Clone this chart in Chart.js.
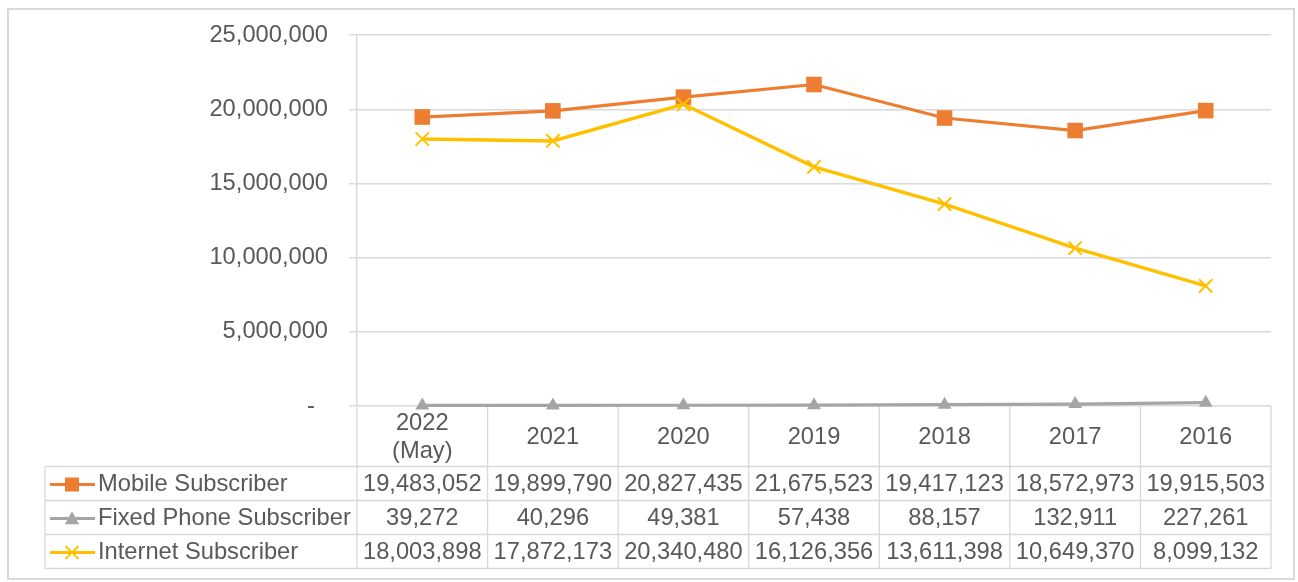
<!DOCTYPE html>
<html><head><meta charset="utf-8">
<script src="https://cdn.jsdelivr.net/npm/chart.js@4.4.1/dist/chart.umd.min.js"></script>
<style>html,body{margin:0;padding:0;background:#fff}#wrap{width:1298px;height:582px;position:relative}</style>
</head><body><div id="wrap"><canvas id="c"></canvas></div>
<script>
const categories = [["2022","(May)"],"2021","2020","2019","2018","2017","2016"];
const mobileSubscriber = [19483052,19899790,20827435,21675523,19417123,18572973,19915503];
const fixedPhoneSubscriber = [39272,40296,49381,57438,88157,132911,227261];
const internetSubscriber = [18003898,17872173,20340480,16126356,13611398,10649370,8099132];
const seriesNames = ["Mobile Subscriber","Fixed Phone Subscriber","Internet Subscriber"];
const yTickValues = [0,5000000,10000000,15000000,20000000,25000000];

const FONT_SIZE = 23.7;
const FONT = FONT_SIZE + 'px "Liberation Sans", Arial, sans-serif';
const TEXT = '#595959';
const GRID = '#d9d9d9';
const seriesStyles = [
  {color:'#ED7D31', marker:'rect'},
  {color:'#A5A5A5', marker:'triangle'},
  {color:'#FFC000', marker:'crossRot'}
];
const seriesData = [mobileSubscriber, fixedPhoneSubscriber, internetSubscriber];

function fmt(v){ return v.toLocaleString('en-US'); }

function drawMarker(ctx, type, x, y, color, s){
  ctx.save();
  ctx.fillStyle = color; ctx.strokeStyle = color;
  if (type==='rect'){ ctx.fillRect(x-s/2, y-s/2, s, s); }
  else if (type==='triangle'){
    ctx.beginPath(); ctx.moveTo(x, y-s*0.55); ctx.lineTo(x+s*0.55, y+s*0.45); ctx.lineTo(x-s*0.55, y+s*0.45); ctx.closePath(); ctx.fill();
  } else {
    ctx.lineWidth = 2; const h = s/2;
    ctx.beginPath(); ctx.moveTo(x-h,y-h); ctx.lineTo(x+h,y+h); ctx.moveTo(x+h,y-h); ctx.lineTo(x-h,y+h); ctx.stroke();
  }
  ctx.restore();
}

const tablePlugin = {
  id: 'dataTable',
  beforeDraw(chart){
    const ctx = chart.ctx;
    ctx.save();
    ctx.strokeStyle = GRID; ctx.lineWidth = 2;
    ctx.strokeRect(8, 9, 1286, 570);
    ctx.restore();
  },
  beforeDatasetsDraw(chart){
    const ctx = chart.ctx, xs = chart.scales.x, ys = chart.scales.y, area = chart.chartArea;
    const n = categories.length;
    const half = (xs.getPixelForValue(1) - xs.getPixelForValue(0)) / 2;
    const top = ys.getPixelForValue(0);
    const headerBottom = top + 60.5;
    const rowH = 34;
    const tableBottom = headerBottom + rowH * 3;
    const labelLeft = 45;
    ctx.save();
    ctx.strokeStyle = GRID; ctx.lineWidth = 1.3;
    for (let i = 0; i <= n; i++){
      const bx = i < n ? xs.getPixelForValue(i) - half : xs.getPixelForValue(n-1) + half;
      ctx.beginPath(); ctx.moveTo(bx, top); ctx.lineTo(bx, tableBottom); ctx.stroke();
    }
    ctx.beginPath(); ctx.moveTo(labelLeft, headerBottom); ctx.lineTo(labelLeft, tableBottom); ctx.stroke();
    for (let r = 0; r <= 3; r++){
      const yy = headerBottom + r*rowH;
      ctx.beginPath(); ctx.moveTo(labelLeft, yy); ctx.lineTo(area.right, yy); ctx.stroke();
    }
    ctx.font = FONT; ctx.fillStyle = TEXT; ctx.textAlign = 'center'; ctx.textBaseline = 'middle';
    const hc = (top + headerBottom)/2 + 1;
    categories.forEach((c, i) => {
      const cx = xs.getPixelForValue(i);
      if (Array.isArray(c)){
        ctx.fillText(c[0], cx, hc - 14);
        ctx.fillText(c[1], cx, hc + 14);
      } else ctx.fillText(c, cx, hc);
    });
    seriesData.forEach((arr, r) => {
      const cy = headerBottom + r*rowH + rowH/2 + 1;
      const st = seriesStyles[r];
      ctx.save();
      ctx.strokeStyle = st.color; ctx.lineWidth = 3;
      ctx.beginPath(); ctx.moveTo(50, cy); ctx.lineTo(95, cy); ctx.stroke();
      ctx.restore();
      drawMarker(ctx, st.marker, 72, cy, st.color, st.marker==='rect'?14:13);
      ctx.fillStyle = TEXT; ctx.textAlign = 'left';
      ctx.fillText(seriesNames[r], 98, cy);
      ctx.textAlign = 'center';
      arr.forEach((v, i) => ctx.fillText(fmt(v), xs.getPixelForValue(i), cy));
    });
    ctx.restore();
  }
};

function mkDataset(idx, radius, pointStyle, order, pbw, bw){
  const st = seriesStyles[idx];
  return {
    label: seriesNames[idx], data: seriesData[idx],
    borderColor: st.color, backgroundColor: st.color,
    borderWidth: bw, tension: 0, clip: false, order: order,
    pointStyle: pointStyle, pointRadius: radius, pointHoverRadius: radius,
    pointBackgroundColor: st.color, pointBorderColor: st.color, pointBorderWidth: pbw
  };
}

new Chart(document.getElementById('c'), {
  type: 'line',
  data: {
    labels: categories,
    datasets: [
      mkDataset(0, 11, 'rect', 1, 0, 3.2),
      mkDataset(1, 8, 'triangle', 2, 0, 3.2),
      mkDataset(2, 9.4, 'crossRot', 0, 2, 3.4)
    ]
  },
  options: {
    responsive: true, maintainAspectRatio: false, animation: false,
    layout: { padding: { top: 33, bottom: 176, left: 0, right: 27 } },
    plugins: { legend: { display: false }, tooltip: { enabled: false } },
    scales: {
      x: { type: 'category', offset: true, display: false },
      y: {
        min: 0, max: 25000000,
        afterFit(scale){ scale.width = 357; },
        afterBuildTicks(scale){ scale.ticks = yTickValues.map(v => ({value: v})); },
        border: { display: true, color: GRID, width: 1.5 },
        grid: { color: GRID, lineWidth: 1.5, tickLength: 8, drawTicks: true, tickColor: GRID },
        ticks: {
          padding: 21, color: TEXT,
          font: { family: '"Liberation Sans", Arial, sans-serif', size: FONT_SIZE },
          callback: v => v === 0 ? '-  ' : fmt(v)
        }
      }
    }
  },
  plugins: [tablePlugin]
});
</script>
</body></html>
